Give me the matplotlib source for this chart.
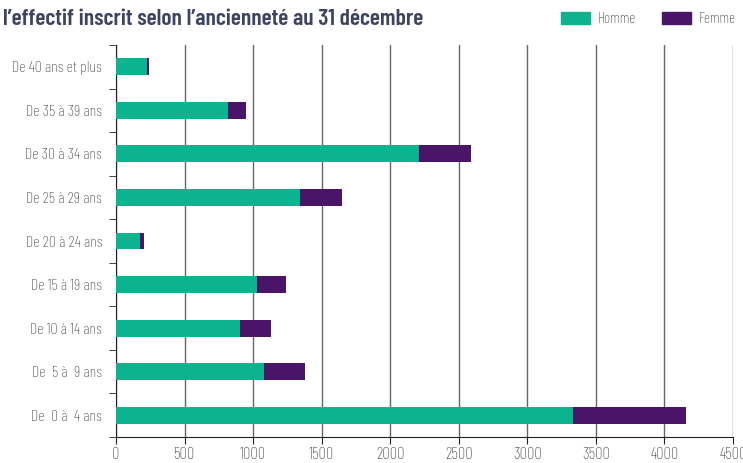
import numpy as np
import matplotlib.pyplot as plt
from matplotlib.patches import Patch

cats = ["De 40 ans et plus", "De 35 à 39 ans", "De 30 à 34 ans", "De 25 à 29 ans",
        "De 20 à 24 ans", "De 15 à 19 ans", "De 10 à 14 ans", "De  5 à  9 ans", "De  0 à  4 ans"]
homme = [224, 817, 2212, 1344, 173, 1029, 904, 1080, 3333]
femme = [19, 133, 377, 307, 29, 212, 227, 295, 822]

green = "#0db38e"
purple = "#4a1569"
txt = "#333333"

plt.rcParams['font.family'] = ['Barlow Condensed', 'DejaVu Sans']

fig = plt.figure(figsize=(7.43, 4.63), dpi=100)
ax = fig.add_axes([116/743, 1-437/463, 617/743, 392/463])

y = np.arange(len(cats))[::-1]
ax.barh(y, homme, height=0.39, color=green, zorder=3)
ax.barh(y, femme, left=homme, height=0.39, color=purple, zorder=3)

ax.set_xlim(0, 4500)
ax.set_ylim(-0.5, len(cats) - 0.5)
ax.set_xticks(np.arange(0, 4501, 500))
ax.tick_params(axis='x', labelsize=12, colors=txt, length=5, direction='out', pad=2)
ax.set_yticks(y)
ax.set_yticklabels(cats)
ax.tick_params(axis='y', labelsize=11.5, colors=txt, length=0, pad=10)
ax.set_yticks(np.arange(-0.5, len(cats), 1), minor=True)
ax.tick_params(axis='y', which='minor', length=5, color='#222222')
ax.tick_params(axis='x', color='#222222')
for lab in ax.get_xticklabels() + ax.get_yticklabels():
    lab.set_fontweight('light')

ax.grid(axis='x', color='#666666', linewidth=1, zorder=0)
for s in ['top', 'right']:
    ax.spines[s].set_visible(False)
ax.spines['left'].set_color('#222222')
ax.spines['bottom'].set_color('#222222')

fig.text(3/743, 1-19/463, "l’effectif inscrit selon l’ancienneté au 31 décembre",
         fontsize=17, fontweight='semibold', color='#3d4462', va='center', ha='left')

handles = [Patch(color=green, label="Homme"), Patch(color=purple, label="Femme")]
leg = fig.legend(handles=handles, loc='center right', bbox_to_anchor=(1.0, 1-19/463),
                 ncol=2, frameon=False, handlelength=1.9, handleheight=0.8,
                 handletextpad=0.46, columnspacing=1.76, borderpad=0, labelcolor=txt,
                 prop={'weight': 'light', 'size': 11})

fig.savefig("out.png", dpi=100)
